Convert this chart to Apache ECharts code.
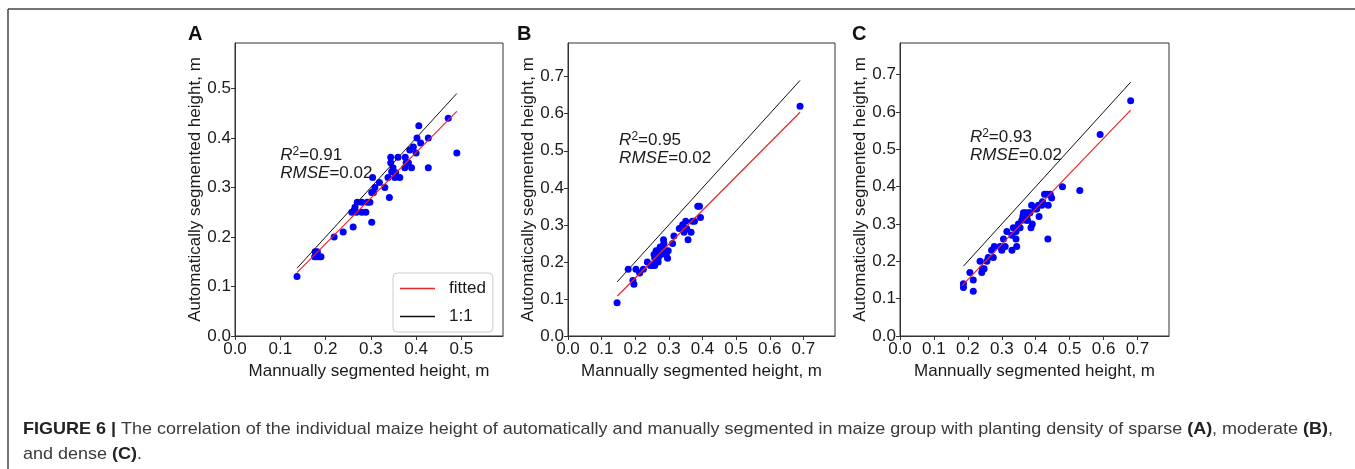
<!DOCTYPE html>
<html><head><meta charset="utf-8">
<script src="https://cdn.jsdelivr.net/npm/echarts@6/dist/echarts.min.js"></script>
<style>html,body{margin:0;padding:0;background:#fff}#c{width:1355px;height:469px}</style>
</head><body><div id="c"></div>
<script>
const panelLetters = ['A', 'B', 'C'];
const xAxisName = 'Mannually segmented height, m';
const yAxisName = 'Automatically segmented height, m';
const legendNames = ['fitted', '1:1'];

// Panel A (sparse)
const aManual = [0.137,0.177,0.182,0.176,0.181,0.186,0.19,0.219,0.239,0.261,0.258,0.265,0.268,0.27,0.28,0.28,0.289,0.292,0.298,0.302,0.302,0.306,0.304,0.309,0.319,0.331,0.341,0.338,0.344,0.344,0.346,0.349,0.353,0.355,0.36,0.364,0.376,0.375,0.378,0.383,0.386,0.39,0.394,0.40,0.402,0.406,0.41,0.427,0.427,0.471,0.49];
const aAuto   = [0.12,0.17,0.17,0.16,0.16,0.16,0.16,0.20,0.21,0.22,0.25,0.26,0.25,0.27,0.27,0.25,0.25,0.27,0.27,0.23,0.29,0.29,0.32,0.30,0.31,0.30,0.28,0.32,0.35,0.361,0.332,0.34,0.32,0.33,0.361,0.32,0.361,0.34,0.35,0.35,0.376,0.34,0.382,0.37,0.40,0.425,0.39,0.40,0.34,0.44,0.37];

// Panel B (moderate)
const bManual = [0.146,0.179,0.193,0.196,0.202,0.213,0.224,0.236,0.245,0.252,0.258,0.262,0.268,0.258,0.268,0.256,0.262,0.268,0.272,0.276,0.274,0.28,0.284,0.285,0.284,0.29,0.292,0.296,0.298,0.311,0.315,0.331,0.341,0.345,0.35,0.353,0.357,0.366,0.37,0.376,0.386,0.391,0.394,0.69];
const bAuto   = [0.09,0.18,0.15,0.14,0.18,0.17,0.18,0.20,0.19,0.19,0.19,0.20,0.20,0.21,0.21,0.22,0.23,0.23,0.22,0.22,0.24,0.24,0.23,0.25,0.26,0.23,0.22,0.21,0.23,0.25,0.27,0.29,0.30,0.28,0.31,0.29,0.26,0.28,0.31,0.31,0.35,0.35,0.32,0.62];

// Panel C (dense)
const cManual = [0.187,0.187,0.206,0.216,0.216,0.236,0.241,0.243,0.248,0.256,0.26,0.27,0.275,0.278,0.295,0.30,0.305,0.31,0.315,0.33,0.33,0.334,0.342,0.344,0.342,0.349,0.354,0.359,0.362,0.364,0.368,0.369,0.372,0.374,0.376,0.378,0.383,0.386,0.388,0.39,0.398,0.403,0.408,0.41,0.418,0.42,0.426,0.433,0.437,0.436,0.443,0.447,0.479,0.53,0.59,0.68];
const cAuto   = [0.14,0.13,0.17,0.15,0.12,0.20,0.17,0.18,0.18,0.20,0.21,0.23,0.21,0.24,0.24,0.23,0.26,0.24,0.28,0.23,0.27,0.29,0.26,0.24,0.28,0.30,0.29,0.31,0.32,0.33,0.32,0.33,0.31,0.32,0.31,0.33,0.33,0.29,0.35,0.30,0.34,0.34,0.35,0.32,0.35,0.36,0.38,0.38,0.35,0.26,0.38,0.37,0.40,0.39,0.54,0.63];

const fitA = [[0.137, 0.128], [0.49, 0.454]];
const fitB = [[0.147, 0.108], [0.69, 0.604]];
const fitC = [[0.183, 0.135], [0.68, 0.605]];

const statsR2 = ['0.91', '0.95', '0.93'];
const statsRMSE = ['0.02', '0.02', '0.02'];
const annotAnchor = [[0.1, 0.384], [0.152, 0.554], [0.206, 0.557]];

const axisMaxX = [0.592, 0.794, 0.793];
const axisMaxY = [0.592, 0.791, 0.785];

const captionLabel = 'FIGURE 6 | ';
const captionLine1 = ['The correlation of the individual maize height of automatically and manually segmented in maize group with planting density of sparse ', '(A)', ', moderate ', '(B)', ','];
const captionLine2 = ['and dense ', '(C)', '.'];

const manual = [aManual, bManual, cManual];
const auto = [aAuto, bAuto, cAuto];
const fits = [fitA, fitB, fitC];

const FONT = 'Liberation Sans';
const TXT = '#1a1a1a';
const gridsPos = [
  {left: 235, top: 43, width: 268, height: 293},
  {left: 568, top: 43, width: 267, height: 293},
  {left: 900, top: 43, width: 269, height: 293}
];

const chart = echarts.init(document.getElementById('c'), null, {renderer: 'canvas'});

const grid = [], xAxis = [], yAxis = [], series = [];
for (let i = 0; i < 3; i++) {
  grid.push(Object.assign({show: true, borderColor: '#333', borderWidth: 1, backgroundColor: 'transparent'}, gridsPos[i]));
  const common = (max) => ({
    type: 'value', min: 0, max: max, interval: 0.1,
    splitLine: {show: false},
    axisLine: {show: true, onZero: false, lineStyle: {color: '#333', width: 1}},
    axisTick: {show: true, inside: false, length: 4, lineStyle: {color: '#333'}},
    axisLabel: {showMaxLabel: false, color: TXT, fontFamily: FONT, fontSize: 17,
      formatter: v => v.toFixed(1)},
    nameTextStyle: {color: TXT, fontFamily: FONT, fontSize: 17}
  });
  const xa = common(axisMaxX[i]);
  Object.assign(xa, {gridIndex: i, name: xAxisName, nameLocation: 'middle', nameGap: 20});
  xa.axisLabel.margin = 5;
  xAxis.push(xa);
  const ya = common(axisMaxY[i]);
  Object.assign(ya, {gridIndex: i, name: yAxisName, nameLocation: 'middle', nameGap: 29, nameRotate: 90});
  ya.axisLabel.margin = 4;
  yAxis.push(ya);

  const pts = manual[i].map((m, k) => [m, auto[i][k]]);
  series.push({
    name: 'data', type: 'scatter', xAxisIndex: i, yAxisIndex: i,
    data: pts, symbolSize: 7, itemStyle: {color: '#0000ff', opacity: 1}, z: 2
  });
  const lo = Math.min(...manual[i]), hi = Math.max(...manual[i]);
  series.push({
    name: '1:1', type: 'line', xAxisIndex: i, yAxisIndex: i,
    data: [[lo, lo], [hi, hi]], symbol: 'none', showSymbol: false,
    lineStyle: {color: '#111', width: 1}, itemStyle: {color: '#111'}, z: 3, silent: true
  });
  series.push({
    name: 'fitted', type: 'line', xAxisIndex: i, yAxisIndex: i,
    data: fits[i], symbol: 'none', showSymbol: false,
    lineStyle: {color: '#e8262a', width: 1.2}, itemStyle: {color: '#e8262a'}, z: 4, silent: true
  });
}

chart.setOption({
  animation: false,
  backgroundColor: '#fff',
  grid, xAxis, yAxis, series,
  legend: {
    data: legendNames.map(n => ({name: n, icon: 'rect'})),
    orient: 'vertical', left: 393, top: 273,
    itemWidth: 35, itemHeight: 1.5, itemGap: 11,
    padding: [7, 7, 7, 7],
    backgroundColor: '#fff', borderColor: '#cccccc', borderWidth: 1, borderRadius: 4,
    textStyle: {color: TXT, fontFamily: FONT, fontSize: 17, lineHeight: 14, padding: [0, 0, 0, 9]},
    selectedMode: false
  }
});

const graphics = [
  {type: 'line', shape: {x1: 8, y1: 9, x2: 1355, y2: 9}, style: {stroke: '#444', lineWidth: 1.5}},
  {type: 'line', shape: {x1: 8, y1: 9, x2: 8, y2: 469}, style: {stroke: '#444', lineWidth: 1.5}}
];
const letterX = [188, 517, 852];
for (let i = 0; i < 3; i++) {
  graphics.push({type: 'text', x: letterX[i], y: 24,
    style: {text: panelLetters[i], font: 'bold 20px "Liberation Sans"', fill: '#111', textVerticalAlign: 'top'}});
  const p = chart.convertToPixel({gridIndex: i}, annotAnchor[i]);
  graphics.push({type: 'text', x: p[0], y: p[1], z: 10,
    style: {
      text: '{it|R}{sup|2}{n|=' + statsR2[i] + '}\n{it|RMSE}{n|=' + statsRMSE[i] + '}',
      textVerticalAlign: 'top', fill: TXT,
      rich: {
        it: {fontFamily: FONT, fontSize: 17, fontStyle: 'italic', lineHeight: 17, fill: TXT},
        n: {fontFamily: FONT, fontSize: 17, lineHeight: 17, fill: TXT},
        sup: {fontFamily: FONT, fontSize: 12, lineHeight: 19, verticalAlign: 'top', fill: TXT}
      }
    }});
}

// caption: measure natural width and compress horizontally to match the condensed face
const CAP_SIZE = 17;
const mctx = document.createElement('canvas').getContext('2d');
function w(txt, bold) { mctx.font = (bold ? 'bold ' : '') + CAP_SIZE + 'px "Liberation Sans"'; return mctx.measureText(txt).width; }
let natural = w(captionLabel, true);
captionLine1.forEach((s, k) => { natural += w(s, k % 2 === 1); });
const targetWidth = 1310;
const sx = targetWidth / natural;
const seg = (arr) => arr.map((s, k) => '{' + (k % 2 === 1 ? 'b' : 'r') + '|' + s + '}').join('');
graphics.push({type: 'text', x: 23, y: 417, scaleX: sx, style: {
  text: '{b|' + captionLabel + '}' + seg(captionLine1) + '\n' + seg(captionLine2),
  textVerticalAlign: 'top',
  rich: {
    b: {fontFamily: FONT, fontWeight: 'bold', fontSize: CAP_SIZE, lineHeight: 25, fill: '#222'},
    r: {fontFamily: FONT, fontSize: CAP_SIZE, lineHeight: 25, fill: '#3a3a3a'}
  }
}});
chart.setOption({graphic: graphics});
</script></body></html>
